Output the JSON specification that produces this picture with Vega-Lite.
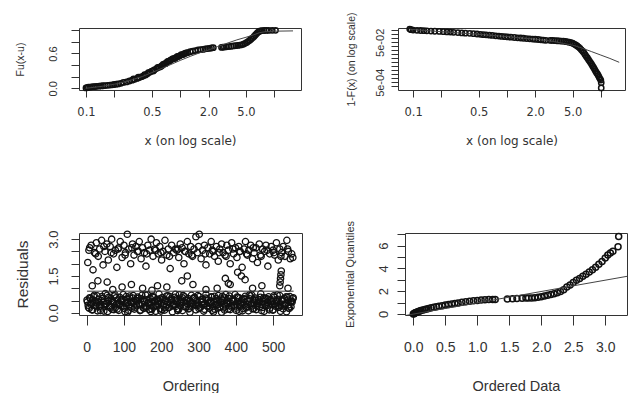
{
  "$schema": "https://vega.github.io/schema/vega-lite/v6.json",
  "background": "white",
  "padding": {"left": 14, "top": 11, "right": 0, "bottom": 0},
  "config": {
    "view": {"stroke": "#333", "strokeWidth": 1},
    "axis": {"grid": false, "domain": false, "tickColor": "#333", "tickWidth": 1, "labelColor": "#333", "titleColor": "#333", "titleFontWeight": "normal", "labelFlush": false, "labelOverlap": false, "labelBound": false, "tickCount": 50}
  },
  "bounds": "full",
  "spacing": 72,
  "vconcat": [
    {
      "bounds": "flush",
      "spacing": 97,
      "hconcat": [
        {
          "width": 222, "height": 62,
          "layer": [
            {
              "data": {"values": [
                {"x":0.1,"y":0.005},{"x":0.103,"y":0.012},{"x":0.106,"y":0.018},{"x":0.11,"y":0.02},{"x":0.115,"y":0.025},{"x":0.12,"y":0.028},{"x":0.125,"y":0.03},{"x":0.13,"y":0.033},{"x":0.138,"y":0.036},{"x":0.145,"y":0.04},{"x":0.152,"y":0.043},{"x":0.16,"y":0.046},{"x":0.17,"y":0.05},{"x":0.18,"y":0.055},{"x":0.19,"y":0.06},{"x":0.2,"y":0.065},{"x":0.21,"y":0.07},{"x":0.22,"y":0.075},{"x":0.235,"y":0.085},{"x":0.25,"y":0.1},{"x":0.27,"y":0.11},{"x":0.29,"y":0.125},{"x":0.31,"y":0.14},{"x":0.32,"y":0.16},{"x":0.33,"y":0.155},{"x":0.35,"y":0.17},{"x":0.36,"y":0.19},{"x":0.37,"y":0.185},{"x":0.39,"y":0.2},{"x":0.41,"y":0.215},{"x":0.42,"y":0.235},{"x":0.43,"y":0.23},{"x":0.45,"y":0.25},{"x":0.46,"y":0.27},{"x":0.48,"y":0.28},{"x":0.5,"y":0.295},{"x":0.52,"y":0.3},{"x":0.53,"y":0.315},{"x":0.56,"y":0.34},{"x":0.58,"y":0.36},{"x":0.6,"y":0.365},{"x":0.62,"y":0.37},{"x":0.64,"y":0.39},{"x":0.66,"y":0.41},{"x":0.68,"y":0.42},{"x":0.7,"y":0.425},{"x":0.72,"y":0.445},{"x":0.74,"y":0.465},{"x":0.76,"y":0.47},{"x":0.78,"y":0.475},{"x":0.8,"y":0.49},{"x":0.83,"y":0.505},{"x":0.85,"y":0.51},{"x":0.88,"y":0.515},{"x":0.9,"y":0.53},{"x":0.93,"y":0.545},{"x":0.95,"y":0.55},{"x":0.98,"y":0.555},{"x":1.0,"y":0.565},{"x":1.03,"y":0.58},{"x":1.06,"y":0.58},{"x":1.1,"y":0.59},{"x":1.12,"y":0.6},{"x":1.16,"y":0.61},{"x":1.2,"y":0.615},{"x":1.28,"y":0.63},{"x":1.36,"y":0.64},{"x":1.45,"y":0.65},{"x":1.55,"y":0.66},{"x":1.65,"y":0.665},{"x":1.75,"y":0.67},{"x":1.85,"y":0.68},{"x":1.95,"y":0.685},{"x":2.05,"y":0.69},{"x":2.15,"y":0.695},{"x":2.25,"y":0.7},{"x":2.75,"y":0.705},{"x":2.85,"y":0.71},{"x":2.95,"y":0.71},{"x":3.1,"y":0.715},{"x":3.3,"y":0.72},{"x":3.5,"y":0.725},{"x":3.7,"y":0.73},{"x":3.9,"y":0.735},{"x":4.1,"y":0.74},{"x":4.3,"y":0.745},{"x":4.5,"y":0.75},{"x":4.7,"y":0.76},{"x":4.9,"y":0.775},{"x":5.1,"y":0.79},{"x":5.3,"y":0.81},{"x":5.5,"y":0.83},{"x":5.7,"y":0.85},{"x":5.9,"y":0.87},{"x":6.1,"y":0.895},{"x":6.3,"y":0.92},{"x":6.5,"y":0.945},{"x":6.7,"y":0.965},{"x":6.9,"y":0.98},{"x":7.1,"y":0.99},{"x":7.4,"y":0.995},{"x":7.8,"y":0.997},{"x":8.2,"y":0.998},{"x":8.7,"y":0.999},{"x":9.5,"y":1.0},{"x":10.3,"y":1.0}
              ]},
              "mark": {"type": "point", "shape": "circle", "filled": false, "size": 28, "strokeWidth": 1.5, "color": "#111", "opacity": 1},
              "encoding": {
                "x": {"field": "x", "type": "quantitative", "scale": {"type": "log", "domain": [0.0843, 19.2], "nice": false},
                  "axis": {"title": "x (on log scale)", "values": [0.1,0.2,0.5,1,2,5,10], "tickCount": 50, "labelExpr": "datum.value == 0.1 ? '0.1' : datum.value == 0.5 ? '0.5' : datum.value == 2 ? '2.0' : datum.value == 5 ? '5.0' : ''", "labelOverlap": false, "tickSize": 7, "labelPadding": 9, "labelFont": "DejaVu Sans", "labelFontSize": 11.5, "titleFont": "DejaVu Sans", "titleFontSize": 12, "titlePadding": 18}},
                "y": {"field": "y", "type": "quantitative", "scale": {"domain": [-0.03, 1.04], "nice": false, "zero": false},
                  "axis": {"title": "Fu(x-u)", "values": [0,0.2,0.4,0.6,0.8,1], "tickCount": 50, "labelExpr": "datum.value == 0 ? '0.0' : datum.value == 0.6 ? '0.6' : ''", "labelOverlap": false, "tickSize": 8, "labelAngle": -90, "labelAlign": "center", "labelBaseline": "middle", "labelPadding": 18, "labelFont": "Liberation Sans", "labelFontSize": 11, "titleFont": "Liberation Sans", "titleFontSize": 10.5, "titlePadding": 22}}
              }
            },
            {
              "data": {"values": [
                {"x":0.1,"y":0.0},{"x":0.12,"y":0.015},{"x":0.15,"y":0.035},{"x":0.2,"y":0.07},{"x":0.25,"y":0.105},{"x":0.3,"y":0.14},{"x":0.4,"y":0.205},{"x":0.5,"y":0.27},{"x":0.7,"y":0.37},{"x":1.0,"y":0.48},{"x":1.3,"y":0.555},{"x":1.6,"y":0.61},{"x":2.0,"y":0.66},{"x":2.5,"y":0.72},{"x":3.0,"y":0.765},{"x":4.0,"y":0.835},{"x":5.0,"y":0.88},{"x":6.0,"y":0.92},{"x":7.0,"y":0.96},{"x":8.0,"y":0.975},{"x":10.0,"y":0.985},{"x":15.8,"y":0.99}
              ]},
              "mark": {"type": "line", "color": "#444", "strokeWidth": 1},
              "encoding": {
                "x": {"field": "x", "type": "quantitative"},
                "y": {"field": "y", "type": "quantitative"}
              }
            }
          ]
        },
        {
          "width": 227, "height": 62,
          "layer": [
            {
              "data": {"values": [
                {"x":0.092,"p":0.23},{"x":0.095,"p":0.215},{"x":0.1,"p":0.205},{"x":0.11,"p":0.2},{"x":0.12,"p":0.195},{"x":0.13,"p":0.19},{"x":0.14,"p":0.187},{"x":0.155,"p":0.183},{"x":0.17,"p":0.179},{"x":0.19,"p":0.175},{"x":0.21,"p":0.17},{"x":0.23,"p":0.165},{"x":0.25,"p":0.162},{"x":0.27,"p":0.158},{"x":0.3,"p":0.153},{"x":0.33,"p":0.148},{"x":0.36,"p":0.144},{"x":0.4,"p":0.14},{"x":0.44,"p":0.136},{"x":0.48,"p":0.13},{"x":0.52,"p":0.125},{"x":0.56,"p":0.121},{"x":0.6,"p":0.118},{"x":0.65,"p":0.114},{"x":0.7,"p":0.11},{"x":0.76,"p":0.106},{"x":0.82,"p":0.102},{"x":0.88,"p":0.099},{"x":0.95,"p":0.096},{"x":1.02,"p":0.093},{"x":1.1,"p":0.09},{"x":1.2,"p":0.087},{"x":1.3,"p":0.084},{"x":1.4,"p":0.082},{"x":1.5,"p":0.08},{"x":1.62,"p":0.077},{"x":1.75,"p":0.075},{"x":1.88,"p":0.073},{"x":2.0,"p":0.071},{"x":2.15,"p":0.069},{"x":2.3,"p":0.067},{"x":2.45,"p":0.065},{"x":2.6,"p":0.063},{"x":2.9,"p":0.062},{"x":3.05,"p":0.062},{"x":3.2,"p":0.061},{"x":3.4,"p":0.06},{"x":3.6,"p":0.059},{"x":3.8,"p":0.058},{"x":4.0,"p":0.057},{"x":4.2,"p":0.055},{"x":4.4,"p":0.053},{"x":4.6,"p":0.051},{"x":4.8,"p":0.048},{"x":5.0,"p":0.045},{"x":5.2,"p":0.041},{"x":5.4,"p":0.037},{"x":5.6,"p":0.033},{"x":5.8,"p":0.029},{"x":6.0,"p":0.025},{"x":6.2,"p":0.021},{"x":6.4,"p":0.018},{"x":6.6,"p":0.015},{"x":6.8,"p":0.012},{"x":7.0,"p":0.0098},{"x":7.2,"p":0.0082},{"x":7.4,"p":0.0068},{"x":7.6,"p":0.0056},{"x":7.8,"p":0.0047},{"x":8.0,"p":0.0039},{"x":8.2,"p":0.0032},{"x":8.4,"p":0.0027},{"x":8.6,"p":0.0022},{"x":8.8,"p":0.0018},{"x":9.0,"p":0.0015},{"x":9.2,"p":0.0013},{"x":9.4,"p":0.0011},{"x":9.6,"p":0.0009},{"x":9.8,"p":0.00075},{"x":10.0,"p":0.00065},{"x":10.1,"p":0.00048},{"x":10.1,"p":0.00026}
              ]},
              "mark": {"type": "point", "shape": "circle", "filled": false, "size": 28, "strokeWidth": 1.5, "color": "#111", "opacity": 1},
              "encoding": {
                "x": {"field": "x", "type": "quantitative", "scale": {"type": "log", "domain": [0.069, 18.1], "nice": false},
                  "axis": {"title": "x (on log scale)", "values": [0.1,0.2,0.5,1,2,5,10], "tickCount": 50, "labelExpr": "datum.value == 0.1 ? '0.1' : datum.value == 0.5 ? '0.5' : datum.value == 2 ? '2.0' : datum.value == 5 ? '5.0' : ''", "labelOverlap": false, "tickSize": 7, "labelPadding": 9, "labelFont": "DejaVu Sans", "labelFontSize": 11.5, "titleFont": "DejaVu Sans", "titleFontSize": 12, "titlePadding": 18}},
                "y": {"field": "p", "type": "quantitative", "scale": {"type": "log", "domain": [0.000206, 0.26], "nice": false},
                  "axis": {"title": "1-F(x) (on log scale)", "values": [0.0003155,0.0005,0.0007925,0.001256,0.001991,0.003155,0.005,0.007925,0.01256,0.01991,0.03155,0.05,0.07925,0.1256,0.1991], "tickCount": 50, "labelExpr": "datum.value == 0.0005 ? '5e-04' : datum.value == 0.05 ? '5e-02' : ''", "labelOverlap": false, "tickSize": 7, "labelAngle": -90, "labelAlign": "center", "labelBaseline": "middle", "labelPadding": 11, "labelFont": "Liberation Sans", "labelFontSize": 11, "titleFont": "Liberation Sans", "titleFontSize": 10.5, "titlePadding": 18}}
              }
            },
            {
              "data": {"values": [
                {"x":0.092,"p":0.225},{"x":0.2,"p":0.17},{"x":0.5,"p":0.125},{"x":1.0,"p":0.097},{"x":2.0,"p":0.072},{"x":3.0,"p":0.057},{"x":4.0,"p":0.044},{"x":5.0,"p":0.036},{"x":6.0,"p":0.028},{"x":8.0,"p":0.017},{"x":10.0,"p":0.0115},{"x":12.5,"p":0.0078},{"x":15.7,"p":0.005}
              ]},
              "mark": {"type": "line", "color": "#444", "strokeWidth": 1},
              "encoding": {
                "x": {"field": "x", "type": "quantitative"},
                "y": {"field": "p", "type": "quantitative"}
              }
            }
          ]
        }
      ]
    },
    {
      "bounds": "flush",
      "spacing": 103,
      "hconcat": [
        {
          "width": 223, "height": 82,
          "layer": [
            {
              "data": {"values": [
                {"i":2,"r":0.45},{"i":5,"r":0.22},{"i":8,"r":0.61},{"i":11,"r":0.35},{"i":14,"r":0.12},{"i":17,"r":0.52},{"i":20,"r":0.71},{"i":23,"r":0.28},{"i":26,"r":0.40},{"i":29,"r":0.08},
                {"i":32,"r":0.55},{"i":35,"r":0.33},{"i":38,"r":0.19},{"i":41,"r":0.66},{"i":44,"r":0.44},{"i":47,"r":0.25},{"i":50,"r":0.78},{"i":53,"r":0.37},{"i":56,"r":0.05},{"i":59,"r":0.49},
                {"i":62,"r":0.30},{"i":65,"r":0.58},{"i":68,"r":0.14},{"i":71,"r":0.42},{"i":74,"r":0.68},{"i":77,"r":0.21},{"i":80,"r":0.36},{"i":83,"r":0.52},{"i":86,"r":0.10},{"i":89,"r":0.63},
                {"i":92,"r":0.47},{"i":95,"r":0.27},{"i":98,"r":0.74},{"i":101,"r":0.18},{"i":104,"r":0.39},{"i":107,"r":0.56},{"i":110,"r":0.03},{"i":113,"r":0.32},{"i":116,"r":0.60},{"i":119,"r":0.24},
                {"i":122,"r":0.43},{"i":125,"r":0.70},{"i":128,"r":0.15},{"i":131,"r":0.51},{"i":134,"r":0.29},{"i":137,"r":0.64},{"i":140,"r":0.38},{"i":143,"r":0.09},{"i":146,"r":0.57},{"i":149,"r":0.34},
                {"i":152,"r":0.20},{"i":155,"r":0.46},{"i":158,"r":0.72},{"i":161,"r":0.26},{"i":164,"r":0.41},{"i":167,"r":0.13},{"i":170,"r":0.59},{"i":173,"r":0.31},{"i":176,"r":0.67},{"i":179,"r":0.23},
                {"i":182,"r":0.48},{"i":185,"r":0.06},{"i":188,"r":0.54},{"i":191,"r":0.36},{"i":194,"r":0.76},{"i":197,"r":0.17},{"i":200,"r":0.44},{"i":203,"r":0.62},{"i":206,"r":0.28},{"i":209,"r":0.11},
                {"i":212,"r":0.50},{"i":215,"r":0.33},{"i":218,"r":0.69},{"i":221,"r":0.21},{"i":224,"r":0.40},{"i":227,"r":0.57},{"i":230,"r":0.04},{"i":233,"r":0.35},{"i":236,"r":0.63},{"i":239,"r":0.26},
                {"i":242,"r":0.45},{"i":245,"r":0.16},{"i":248,"r":0.73},{"i":251,"r":0.30},{"i":254,"r":0.53},{"i":257,"r":0.09},{"i":260,"r":0.42},{"i":263,"r":0.65},{"i":266,"r":0.24},{"i":269,"r":0.38},
                {"i":272,"r":0.58},{"i":275,"r":0.19},{"i":278,"r":0.47},{"i":281,"r":0.71},{"i":284,"r":0.27},{"i":287,"r":0.34},{"i":290,"r":0.60},{"i":293,"r":0.12},{"i":296,"r":0.49},{"i":299,"r":0.31},
                {"i":302,"r":0.66},{"i":305,"r":0.22},{"i":308,"r":0.43},{"i":311,"r":0.55},{"i":314,"r":0.07},{"i":317,"r":0.37},{"i":320,"r":0.75},{"i":323,"r":0.29},{"i":326,"r":0.52},{"i":329,"r":0.18},
                {"i":332,"r":0.40},{"i":335,"r":0.63},{"i":338,"r":0.25},{"i":341,"r":0.46},{"i":344,"r":0.14},{"i":347,"r":0.58},{"i":350,"r":0.33},{"i":353,"r":0.70},{"i":356,"r":0.21},{"i":359,"r":0.44},
                {"i":362,"r":0.02},{"i":365,"r":0.51},{"i":368,"r":0.36},{"i":371,"r":0.61},{"i":374,"r":0.27},{"i":377,"r":0.48},{"i":380,"r":0.15},{"i":383,"r":0.68},{"i":386,"r":0.39},{"i":389,"r":0.23},
                {"i":392,"r":0.56},{"i":395,"r":0.30},{"i":398,"r":0.74},{"i":401,"r":0.10},{"i":404,"r":0.45},{"i":407,"r":0.62},{"i":410,"r":0.26},{"i":413,"r":0.41},{"i":416,"r":0.53},{"i":419,"r":0.17},
                {"i":422,"r":0.35},{"i":425,"r":0.67},{"i":428,"r":0.20},{"i":431,"r":0.49},{"i":434,"r":0.08},{"i":437,"r":0.57},{"i":440,"r":0.32},{"i":443,"r":0.72},{"i":446,"r":0.28},{"i":449,"r":0.43},
                {"i":452,"r":0.60},{"i":455,"r":0.13},{"i":458,"r":0.38},{"i":461,"r":0.54},{"i":464,"r":0.24},{"i":467,"r":0.77},{"i":470,"r":0.34},{"i":473,"r":0.47},{"i":476,"r":0.06},{"i":479,"r":0.59},
                {"i":482,"r":0.29},{"i":485,"r":0.42},{"i":488,"r":0.65},{"i":491,"r":0.19},{"i":494,"r":0.50},{"i":497,"r":0.36},{"i":500,"r":0.11},{"i":503,"r":0.63},{"i":506,"r":0.27},{"i":509,"r":0.45},
                {"i":512,"r":0.55},{"i":515,"r":0.22},{"i":518,"r":0.70},{"i":521,"r":0.31},{"i":524,"r":0.48},{"i":527,"r":0.16},{"i":530,"r":0.58},{"i":533,"r":0.37},{"i":536,"r":0.04},{"i":539,"r":0.52},
                {"i":542,"r":0.33},{"i":545,"r":0.66},{"i":548,"r":0.25},{"i":551,"r":0.44},{"i":554,"r":0.61},
                {"i":4,"r":0.31},{"i":10,"r":0.58},{"i":16,"r":0.12},{"i":22,"r":0.44},{"i":28,"r":0.69},{"i":34,"r":0.26},{"i":40,"r":0.50},{"i":46,"r":0.07},{"i":52,"r":0.38},{"i":58,"r":0.62},
                {"i":64,"r":0.20},{"i":70,"r":0.47},{"i":76,"r":0.73},{"i":82,"r":0.15},{"i":88,"r":0.35},{"i":94,"r":0.55},{"i":100,"r":0.28},{"i":106,"r":0.66},{"i":112,"r":0.10},{"i":118,"r":0.42},
                {"i":124,"r":0.60},{"i":130,"r":0.23},{"i":136,"r":0.48},{"i":142,"r":0.33},{"i":148,"r":0.71},{"i":154,"r":0.18},{"i":160,"r":0.53},{"i":166,"r":0.40},{"i":172,"r":0.05},{"i":178,"r":0.64},
                {"i":184,"r":0.27},{"i":190,"r":0.45},{"i":196,"r":0.57},{"i":202,"r":0.13},{"i":208,"r":0.36},{"i":214,"r":0.68},{"i":220,"r":0.22},{"i":226,"r":0.51},{"i":232,"r":0.30},{"i":238,"r":0.75},
                {"i":244,"r":0.09},{"i":250,"r":0.43},{"i":256,"r":0.61},{"i":262,"r":0.25},{"i":268,"r":0.49},{"i":274,"r":0.16},{"i":280,"r":0.37},{"i":286,"r":0.59},{"i":292,"r":0.32},{"i":298,"r":0.70},
                {"i":304,"r":0.21},{"i":310,"r":0.46},{"i":316,"r":0.14},{"i":322,"r":0.56},{"i":328,"r":0.39},{"i":334,"r":0.65},{"i":340,"r":0.03},{"i":346,"r":0.34},{"i":352,"r":0.52},{"i":358,"r":0.24},
                {"i":364,"r":0.67},{"i":370,"r":0.11},{"i":376,"r":0.41},{"i":382,"r":0.58},{"i":388,"r":0.29},{"i":394,"r":0.47},{"i":400,"r":0.19},{"i":406,"r":0.62},{"i":412,"r":0.35},{"i":418,"r":0.08},
                {"i":424,"r":0.54},{"i":430,"r":0.26},{"i":436,"r":0.72},{"i":442,"r":0.38},{"i":448,"r":0.17},{"i":454,"r":0.50},{"i":460,"r":0.44},{"i":466,"r":0.63},{"i":472,"r":0.22},{"i":478,"r":0.33},
                {"i":484,"r":0.57},{"i":490,"r":0.12},{"i":496,"r":0.46},{"i":502,"r":0.69},{"i":508,"r":0.27},{"i":514,"r":0.40},{"i":520,"r":0.06},{"i":526,"r":0.55},{"i":532,"r":0.31},{"i":538,"r":0.64},
                {"i":544,"r":0.18},{"i":550,"r":0.48},
                {"i":1,"r":0.52},{"i":7,"r":0.18},{"i":13,"r":0.39},{"i":19,"r":0.65},{"i":25,"r":0.27},{"i":31,"r":0.44},{"i":37,"r":0.09},{"i":43,"r":0.58},{"i":49,"r":0.34},{"i":55,"r":0.71},
                {"i":61,"r":0.23},{"i":67,"r":0.49},{"i":73,"r":0.13},{"i":79,"r":0.61},{"i":85,"r":0.37},{"i":91,"r":0.29},{"i":97,"r":0.55},{"i":103,"r":0.04},{"i":109,"r":0.42},{"i":115,"r":0.68},
                {"i":121,"r":0.19},{"i":127,"r":0.46},{"i":133,"r":0.33},{"i":139,"r":0.59},{"i":145,"r":0.11},{"i":151,"r":0.50},{"i":157,"r":0.26},{"i":163,"r":0.73},{"i":169,"r":0.38},{"i":175,"r":0.15},
                {"i":181,"r":0.62},{"i":187,"r":0.31},{"i":193,"r":0.48},{"i":199,"r":0.07},{"i":205,"r":0.54},{"i":211,"r":0.21},{"i":217,"r":0.43},{"i":223,"r":0.66},{"i":229,"r":0.28},{"i":235,"r":0.36},
                {"i":241,"r":0.57},{"i":247,"r":0.14},{"i":253,"r":0.45},{"i":259,"r":0.70},{"i":265,"r":0.24},{"i":271,"r":0.51},{"i":277,"r":0.02},{"i":283,"r":0.40},{"i":289,"r":0.63},{"i":295,"r":0.30},
                {"i":301,"r":0.17},{"i":307,"r":0.53},{"i":313,"r":0.35},{"i":319,"r":0.60},{"i":325,"r":0.25},{"i":331,"r":0.47},{"i":337,"r":0.10},{"i":343,"r":0.67},{"i":349,"r":0.32},{"i":355,"r":0.41},
                {"i":361,"r":0.56},{"i":367,"r":0.20},{"i":373,"r":0.74},{"i":379,"r":0.38},{"i":385,"r":0.13},{"i":391,"r":0.49},{"i":397,"r":0.27},{"i":403,"r":0.64},{"i":409,"r":0.06},{"i":415,"r":0.44},
                {"i":421,"r":0.58},{"i":427,"r":0.22},{"i":433,"r":0.35},{"i":439,"r":0.69},{"i":445,"r":0.16},{"i":451,"r":0.52},{"i":457,"r":0.30},{"i":463,"r":0.47},{"i":469,"r":0.09},{"i":475,"r":0.61},
                {"i":481,"r":0.26},{"i":487,"r":0.43},{"i":493,"r":0.55},{"i":499,"r":0.12},{"i":505,"r":0.39},{"i":511,"r":0.72},{"i":517,"r":0.24},{"i":523,"r":0.50},{"i":529,"r":0.33},{"i":535,"r":0.65},
                {"i":541,"r":0.19},{"i":547,"r":0.45},{"i":553,"r":0.57},
                {"i":3,"r":2.05},{"i":8,"r":2.65},{"i":12,"r":2.75},{"i":17,"r":1.75},{"i":21,"r":2.45},{"i":26,"r":2.85},{"i":31,"r":2.3},{"i":35,"r":2.6},{"i":40,"r":2.95},{"i":44,"r":1.95},
                {"i":49,"r":2.5},{"i":54,"r":2.8},{"i":58,"r":2.15},{"i":63,"r":2.7},{"i":67,"r":3.0},{"i":72,"r":2.4},{"i":77,"r":2.55},{"i":81,"r":1.85},{"i":86,"r":2.65},{"i":90,"r":2.9},
                {"i":95,"r":2.25},{"i":100,"r":2.75},{"i":104,"r":2.45},{"i":109,"r":3.2},{"i":113,"r":2.6},{"i":118,"r":2.0},{"i":123,"r":2.8},{"i":127,"r":2.35},{"i":132,"r":2.7},{"i":136,"r":2.5},
                {"i":141,"r":2.9},{"i":146,"r":2.2},{"i":150,"r":2.65},{"i":155,"r":2.45},{"i":159,"r":1.9},{"i":164,"r":2.75},{"i":169,"r":2.55},{"i":173,"r":3.0},{"i":178,"r":2.3},{"i":182,"r":2.6},
                {"i":187,"r":2.85},{"i":192,"r":2.4},{"i":196,"r":2.7},{"i":201,"r":2.15},{"i":205,"r":2.5},{"i":210,"r":2.95},{"i":215,"r":2.35},{"i":219,"r":2.6},{"i":224,"r":1.8},{"i":228,"r":2.75},
                {"i":233,"r":2.45},{"i":238,"r":2.6},{"i":242,"r":2.55},{"i":247,"r":2.25},{"i":251,"r":2.8},{"i":256,"r":2.65},{"i":261,"r":2.0},{"i":265,"r":2.5},{"i":270,"r":2.9},{"i":274,"r":2.4},
                {"i":279,"r":2.7},{"i":284,"r":2.3},{"i":288,"r":2.6},{"i":293,"r":3.1},{"i":297,"r":2.45},{"i":302,"r":3.2},{"i":307,"r":2.2},{"i":311,"r":2.55},{"i":316,"r":2.75},{"i":320,"r":1.95},
                {"i":325,"r":2.65},{"i":330,"r":2.4},{"i":334,"r":2.9},{"i":339,"r":2.5},{"i":343,"r":2.3},{"i":348,"r":2.7},{"i":353,"r":2.1},{"i":357,"r":2.6},{"i":362,"r":2.8},{"i":366,"r":2.45},
                {"i":371,"r":2.35},{"i":376,"r":2.75},{"i":380,"r":2.55},{"i":385,"r":2.0},{"i":389,"r":2.85},{"i":394,"r":2.4},{"i":399,"r":2.65},{"i":403,"r":2.25},{"i":408,"r":2.7},{"i":412,"r":2.5},
                {"i":417,"r":1.85},{"i":422,"r":2.6},{"i":426,"r":2.9},{"i":431,"r":2.35},{"i":435,"r":2.55},{"i":440,"r":2.75},{"i":445,"r":2.2},{"i":449,"r":2.45},{"i":454,"r":2.65},{"i":458,"r":2.05},
                {"i":463,"r":2.8},{"i":468,"r":2.3},{"i":472,"r":2.6},{"i":477,"r":2.5},{"i":481,"r":2.75},{"i":486,"r":1.9},{"i":491,"r":2.4},{"i":495,"r":2.7},{"i":500,"r":2.55},{"i":504,"r":2.35},
                {"i":509,"r":2.85},{"i":514,"r":2.15},{"i":518,"r":2.6},{"i":523,"r":2.45},{"i":527,"r":2.7},{"i":532,"r":2.3},{"i":537,"r":2.95},{"i":541,"r":2.5},{"i":546,"r":2.2},{"i":550,"r":2.4},
                {"i":6,"r":2.55},{"i":24,"r":2.4},{"i":46,"r":2.7},{"i":66,"r":2.45},{"i":84,"r":2.6},{"i":103,"r":2.35},{"i":121,"r":2.65},{"i":139,"r":2.5},{"i":161,"r":2.4},{"i":185,"r":2.55},
                {"i":199,"r":2.45},{"i":222,"r":2.3},{"i":245,"r":2.6},{"i":263,"r":2.5},{"i":282,"r":2.35},{"i":300,"r":2.7},{"i":318,"r":2.4},{"i":337,"r":2.55},{"i":355,"r":2.45},{"i":374,"r":2.3},
                {"i":392,"r":2.6},{"i":410,"r":2.5},{"i":429,"r":2.4},{"i":447,"r":2.65},{"i":466,"r":2.35},{"i":484,"r":2.55},{"i":502,"r":2.45},{"i":521,"r":2.3},{"i":539,"r":2.6},{"i":553,"r":2.25},
                {"i":15,"r":1.1},{"i":30,"r":1.3},{"i":55,"r":1.25},{"i":70,"r":0.95},{"i":95,"r":1.05},{"i":120,"r":1.15},{"i":150,"r":1.0},{"i":175,"r":0.92},{"i":190,"r":1.1},{"i":215,"r":1.05},
                {"i":255,"r":1.3},{"i":270,"r":1.5},{"i":285,"r":1.15},{"i":320,"r":0.95},{"i":350,"r":1.0},{"i":372,"r":1.4},{"i":380,"r":1.2},{"i":385,"r":1.15},{"i":405,"r":1.65},{"i":415,"r":1.5},
                {"i":425,"r":1.35},{"i":445,"r":1.0},{"i":470,"r":1.1},{"i":518,"r":1.1},{"i":519,"r":1.25},{"i":520,"r":1.4},{"i":521,"r":1.55},{"i":522,"r":1.7},{"i":540,"r":1.0}
              ]},
              "mark": {"type": "point", "shape": "circle", "filled": false, "size": 40, "strokeWidth": 1.3, "color": "#111", "opacity": 1},
              "encoding": {
                "x": {"field": "i", "type": "quantitative", "scale": {"domain": [-20.6, 577.6], "nice": false, "zero": false},
                  "axis": {"title": "Ordering", "values": [0,100,200,300,400,500], "tickCount": 50, "format": "d", "labelOverlap": false, "tickSize": 10, "labelPadding": 15, "labelFont": "Liberation Sans", "labelFontSize": 14, "titleFont": "Liberation Sans", "titleFontSize": 14.5, "titlePadding": 25}},
                "y": {"field": "r", "type": "quantitative", "scale": {"domain": [-0.09, 3.25], "nice": false, "zero": false},
                  "axis": {"title": "Residuals", "values": [0,0.5,1,1.5,2,2.5,3], "tickCount": 50, "labelExpr": "datum.value == 0 ? '0.0' : datum.value == 1.5 ? '1.5' : datum.value == 3 ? '3.0' : ''", "labelOverlap": false, "tickSize": 8, "labelAngle": -90, "labelAlign": "center", "labelBaseline": "middle", "labelPadding": 18, "labelFont": "Liberation Sans", "labelFontSize": 13, "titleFont": "Liberation Sans", "titleFontSize": 15.5, "titlePadding": 17}}
              }
            },
            {
              "data": {"values": [{"i":1,"r":0.88},{"i":555,"r":0.88}]},
              "mark": {"type": "line", "color": "#333", "strokeWidth": 1},
              "encoding": {
                "x": {"field": "i", "type": "quantitative"},
                "y": {"field": "r", "type": "quantitative"}
              }
            }
          ]
        },
        {
          "width": 222, "height": 82,
          "layer": [
            {
              "data": {"values": [
                {"x":0.0,"q":0.0},{"x":0.01,"q":0.03},{"x":0.02,"q":0.07},{"x":0.03,"q":0.1},{"x":0.045,"q":0.14},{"x":0.06,"q":0.18},{"x":0.08,"q":0.22},{"x":0.1,"q":0.26},{"x":0.12,"q":0.3},{"x":0.15,"q":0.35},{"x":0.18,"q":0.39},{"x":0.21,"q":0.44},{"x":0.24,"q":0.49},{"x":0.28,"q":0.54},{"x":0.32,"q":0.59},{"x":0.36,"q":0.64},{"x":0.4,"q":0.68},{"x":0.45,"q":0.73},{"x":0.5,"q":0.78},{"x":0.55,"q":0.83},{"x":0.6,"q":0.88},{"x":0.65,"q":0.92},{"x":0.7,"q":0.97},{"x":0.76,"q":1.02},{"x":0.82,"q":1.07},{"x":0.88,"q":1.11},{"x":0.94,"q":1.15},{"x":1.0,"q":1.19},{"x":1.06,"q":1.22},{"x":1.12,"q":1.24},{"x":1.18,"q":1.26},{"x":1.24,"q":1.27},{"x":1.28,"q":1.28},{"x":1.47,"q":1.31},{"x":1.55,"q":1.33},{"x":1.62,"q":1.35},{"x":1.7,"q":1.37},{"x":1.76,"q":1.39},{"x":1.8,"q":1.4},{"x":1.85,"q":1.4},{"x":1.9,"q":1.43},{"x":1.95,"q":1.47},{"x":2.0,"q":1.52},{"x":2.05,"q":1.58},{"x":2.1,"q":1.64},{"x":2.15,"q":1.7},{"x":2.2,"q":1.77},{"x":2.25,"q":1.85},{"x":2.3,"q":1.97},{"x":2.35,"q":2.12},{"x":2.4,"q":2.36},{"x":2.45,"q":2.55},{"x":2.5,"q":2.75},{"x":2.55,"q":2.95},{"x":2.6,"q":3.12},{"x":2.65,"q":3.3},{"x":2.7,"q":3.48},{"x":2.75,"q":3.67},{"x":2.8,"q":3.88},{"x":2.85,"q":4.1},{"x":2.9,"q":4.35},{"x":2.95,"q":4.6},{"x":3.0,"q":4.9},{"x":3.04,"q":5.17},{"x":3.08,"q":5.35},{"x":3.12,"q":5.5},{"x":3.2,"q":5.9},{"x":3.21,"q":6.8}
              ]},
              "mark": {"type": "point", "shape": "circle", "filled": false, "size": 36, "strokeWidth": 1.5, "color": "#111", "opacity": 1},
              "encoding": {
                "x": {"field": "x", "type": "quantitative", "scale": {"domain": [-0.13, 3.34], "nice": false, "zero": false},
                  "axis": {"title": "Ordered Data", "values": [0,0.5,1,1.5,2,2.5,3], "tickCount": 50, "format": ".1f", "labelOverlap": false, "tickSize": 10, "labelPadding": 15, "labelFont": "Liberation Sans", "labelFontSize": 14, "titleFont": "Liberation Sans", "titleFontSize": 14.5, "titlePadding": 25}},
                "y": {"field": "q", "type": "quantitative", "scale": {"domain": [-0.09, 7.1], "nice": false, "zero": false},
                  "axis": {"title": "Exponential Quantiles", "values": [0,1,2,3,4,5,6,7], "tickCount": 50, "labelExpr": "datum.value == 0 ? '0' : datum.value == 2 ? '2' : datum.value == 4 ? '4' : datum.value == 6 ? '6' : ''", "labelOverlap": false, "tickSize": 8, "labelAngle": -90, "labelAlign": "center", "labelBaseline": "middle", "labelPadding": 14, "labelFont": "Liberation Sans", "labelFontSize": 13, "titleFont": "Liberation Sans", "titleFontSize": 11, "titlePadding": 22}}
              }
            },
            {
              "data": {"values": [{"x":-0.13,"q":-0.14},{"x":3.34,"q":3.3}]},
              "mark": {"type": "line", "color": "#444", "strokeWidth": 1, "clip": true},
              "encoding": {
                "x": {"field": "x", "type": "quantitative"},
                "y": {"field": "q", "type": "quantitative"}
              }
            }
          ]
        }
      ]
    }
  ]
}
